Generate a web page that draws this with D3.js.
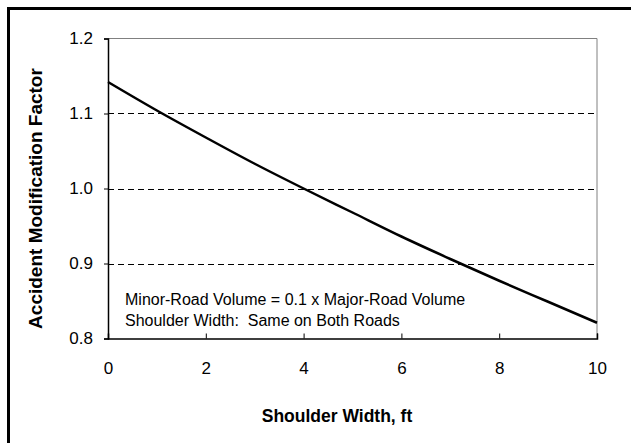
<!DOCTYPE html>
<html><head><meta charset="utf-8">
<script src="https://cdn.jsdelivr.net/npm/d3@7"></script>
<style>body{margin:0;background:#fff}text{font-family:"Liberation Sans",Arial,sans-serif}</style>
</head><body><svg id="c" width="631" height="443"></svg>
<script>
const shoulderWidth = [0,1,2,3,4,5,6,7,8,9,10];
const amf = [1.142,1.104,1.068,1.033,1.000,0.968,0.936,0.906,0.877,0.849,0.821];
const xTicks = [0,2,4,6,8,10];
const yTicks = [0.8,0.9,1.0,1.1,1.2];
const gridValues = [0.9,1.0,1.1];
const notes = ["Minor-Road Volume = 0.1 x Major-Road Volume","Shoulder Width:  Same on Both Roads"];

const svg = d3.select("#c");
svg.append("rect").attr("width",631).attr("height",443).attr("fill","#fff");
svg.append("rect").attr("x",8.5).attr("y",8.5).attr("width",700).attr("height",600)
  .attr("fill","none").attr("stroke","#000").attr("stroke-width",3);

const L=108,R=597,T=38.5,B=338.5;
const x=d3.scaleLinear().domain([0,10]).range([L,R]);
const y=d3.scaleLinear().domain([0.8,1.2]).range([B,T]);

svg.append("path").attr("d",`M${L},${T}H${R}V${B}`).attr("fill","none").attr("stroke","#808080").attr("stroke-width",1);

svg.append("g").selectAll("line").data(gridValues).join("line")
  .attr("x1",L).attr("x2",R).attr("y1",d=>Math.round(y(d))+0.5).attr("y2",d=>Math.round(y(d))+0.5)
  .attr("stroke","#000").attr("stroke-dasharray","6,4").attr("stroke-width",1);

const ya=svg.append("g").attr("transform",`translate(${L},0)`)
  .call(d3.axisLeft(y).tickValues(yTicks).tickFormat(d3.format(".1f")).tickSize(4).tickPadding(11));
ya.select(".domain").attr("stroke","#000").attr("stroke-width",1.5);
ya.selectAll("text").attr("font-size",17).attr("fill","#000").style("font-family","Liberation Sans, Arial, sans-serif");

const xa=svg.append("g").attr("transform",`translate(0,${B})`)
  .call(d3.axisBottom(x).tickValues(xTicks).tickFormat(d3.format("d")).tickSize(-5).tickPadding(23));
xa.select(".domain").attr("stroke","#000").attr("stroke-width",1.5);
xa.selectAll("line").attr("stroke","#000");
xa.selectAll("text").attr("font-size",17).attr("fill","#000").style("font-family","Liberation Sans, Arial, sans-serif");

svg.append("path").datum(shoulderWidth.map((w,i)=>[w,amf[i]]))
  .attr("d",d3.line().x(d=>x(d[0])).y(d=>y(d[1])).curve(d3.curveMonotoneX))
  .attr("fill","none").attr("stroke","#000").attr("stroke-width",2.5);

svg.append("g").selectAll("text").data(notes).join("text")
  .attr("x",125).attr("y",(d,i)=>305+i*21).attr("font-size",16).attr("fill","#000").attr("xml:space","preserve")
  .style("white-space","pre").text(d=>d);

svg.append("text").attr("x",337).attr("y",422).attr("text-anchor","middle")
  .attr("font-size",17.5).attr("font-weight","bold").text("Shoulder Width, ft");
svg.append("text").attr("transform",`translate(42,${(T+B)/2+10}) rotate(-90)`).attr("text-anchor","middle")
  .attr("font-size",19).attr("font-weight","bold").text("Accident Modification Factor");
</script></body></html>
